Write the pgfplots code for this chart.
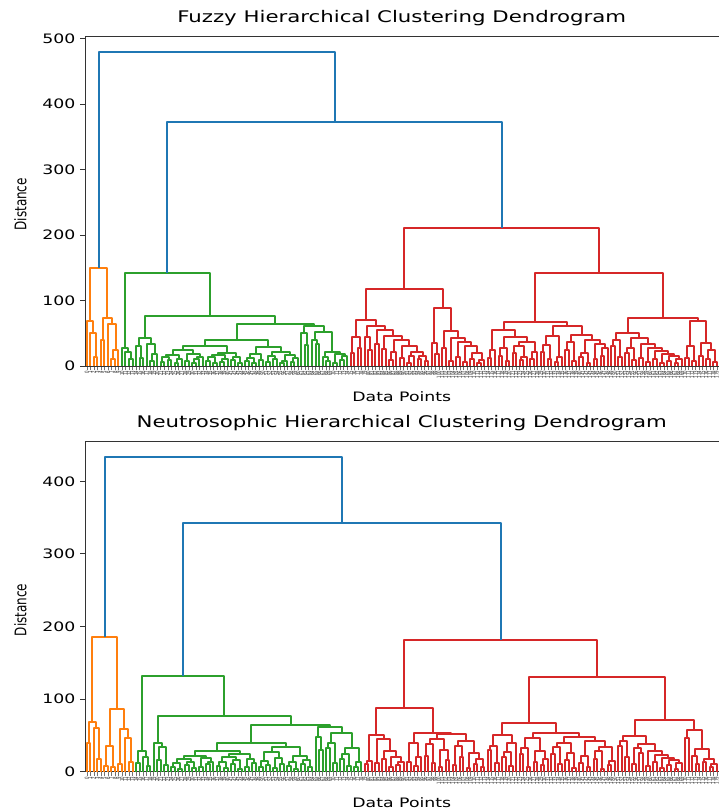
\documentclass[border=0pt]{standalone}
\usepackage{fontspec}
\setmainfont{DejaVu Sans}[FakeStretch=1.33]
\newfontfamily\ylabfont{DejaVu Sans}[FakeStretch=0.75]
\usepackage{pgfplots}
\pgfplotsset{compat=1.18}
\definecolor{mplblue}{HTML}{1F77B4}
\definecolor{mplorange}{HTML}{FF7F0E}
\definecolor{mplgreen}{HTML}{2CA02C}
\definecolor{mplred}{HTML}{D62728}
% dendrogram link: \m{left child}{right child}{merge height}{node name}
% leaves are numbered 0,1,2,... and sit at x = 10*i+5 (scipy layout)
\newcommand\dGet[1]{%
  \ifcsname dx@#1\endcsname
    \edef\dNx{\csname dx@#1\endcsname}\edef\dNy{\csname dy@#1\endcsname}%
  \else
    \pgfmathsetmacro\dNx{10*#1+5}\def\dNy{0}%
  \fi}
\newcommand\m[4]{%
  \dGet{#1}\let\dXa\dNx\let\dYa\dNy
  \dGet{#2}\let\dXb\dNx\let\dYb\dNy
  \pgfmathsetmacro\dXm{(\dXa+\dXb)/2}%
  \expandafter\xdef\csname dx@#4\endcsname{\dXm}%
  \expandafter\xdef\csname dy@#4\endcsname{#3}%
  \edef\dTmp{\noexpand\addplot[dend,color=\cc] coordinates {(\dXa,\dYa) (\dXa,#3) (\dXb,#3) (\dXb,\dYb)};}%
  \dTmp}
\pgfplotsset{
  dend/.style={line width=2pt, line join=round, mark=none},
  dendaxis/.style={
    scale only axis, width=633.5pt, height=330pt,
    xmin=0, xmax=1800, ymin=0,
    axis x line*=box, axis y line*=left,
    axis line style={black!80, line width=0.9pt},
    tick align=outside, major tick length=4.5pt,
    xtick pos=bottom, ytick pos=left,
    xtick={5,15,...,1795},
    x tick style={black!55, line width=0.4pt},
    y tick style={black!80, line width=0.9pt},
    xticklabel={\pgfmathparse{(\tick-5)/10}\pgfmathprintnumber[fixed,precision=0]{\pgfmathresult}},
    x tick label style={font=\ylabfont\fontsize{5.2}{5.5}\selectfont, rotate=90, anchor=east, inner sep=0.3pt, text=black!85},
    y tick label style={font=\fontsize{13}{15}\selectfont, anchor=east, inner sep=0pt, xshift=-5pt},
    /pgf/number format/assume math mode=true,
    title style={font=\fontsize{16}{19}\selectfont, at={(0.5,1)}, anchor=base, yshift=7.7pt},
    xlabel style={font=\fontsize{13}{15}\selectfont, at={(axis description cs:0.5,-0.094)}, anchor=center},
    ylabel style={font=\ylabfont\fontsize{16}{19}\selectfont, at={(axis description cs:-0.102,0.49)}, anchor=center},
    xlabel={Data Points}, ylabel={Distance},
  }
}
\begin{document}
\begin{tikzpicture}[x=1pt,y=1pt]
% ---------------- Fuzzy ----------------
\begin{axis}[dendaxis, at={(85pt,443pt)}, anchor=south west, ymax=504,
  ytick={0,100,...,500}, title={Fuzzy Hierarchical Clustering Dendrogram}]
\def\cc{mplorange}
\m{2}{3}{13}{a1}
\m{1}{a1}{51}{a2}
\m{0}{a2}{69}{a3}
\m{4}{5}{40}{a4}
\m{7}{8}{11}{a5}
\m{a5}{9}{25}{a6}
\m{6}{a6}{64}{a7}
\m{a4}{a7}{74}{a8}
\m{a3}{a8}{150}{OT}
\def\cc{mplgreen}
\m{12}{13}{10}{g1}
\m{11}{g1}{22}{g2}
\m{10}{g2}{28}{g3}
\m{15}{16}{12}{g4}
\m{14}{g4}{30}{g5}
\m{18}{19}{8}{g6}
\m{g6}{20}{18}{g7}
\m{17}{g7}{34}{g8}
\m{g5}{g8}{42}{g9}
\m{21}{22}{6}{g10}
\m{23}{24}{9}{g11}
\m{g10}{g11}{14}{g12}
\m{25}{26}{5}{g13}
\m{g13}{27}{11}{g14}
\m{g12}{g14}{17}{g15}
\m{28}{29}{7}{g16}
\m{30}{31}{4}{g17}
\m{g17}{32}{10}{g18}
\m{g18}{33}{14}{g19}
\m{g16}{g19}{19}{g20}
\m{g15}{g20}{24}{g21}
\m{34}{35}{8}{g22}
\m{36}{37}{5}{g23}
\m{g22}{g23}{13}{g24}
\m{38}{39}{6}{g25}
\m{g25}{40}{11}{g26}
\m{g24}{g26}{17}{g27}
\m{41}{42}{9}{g28}
\m{43}{44}{4}{g29}
\m{g28}{g29}{14}{g30}
\m{g27}{g30}{20}{g31}
\m{g21}{g31}{30}{g32}
\m{45}{46}{7}{g33}
\m{47}{48}{5}{g34}
\m{g33}{g34}{12}{g35}
\m{49}{50}{9}{g36}
\m{g35}{g36}{18}{g37}
\m{51}{52}{6}{g38}
\m{53}{54}{10}{g39}
\m{g38}{g39}{15}{g40}
\m{55}{56}{4}{g41}
\m{g41}{57}{8}{g42}
\m{58}{59}{6}{g43}
\m{g43}{60}{12}{g44}
\m{g42}{g44}{17}{g45}
\m{g40}{g45}{22}{g46}
\m{g37}{g46}{29}{g47}
\m{g32}{g47}{40}{g48}
\m{62}{63}{32}{g49}
\m{61}{g49}{50}{g50}
\m{65}{66}{33}{g51}
\m{64}{g51}{40}{g52}
\m{68}{69}{8}{g53}
\m{67}{g53}{14}{g54}
\m{70}{71}{5}{g55}
\m{72}{73}{9}{g56}
\m{g56}{74}{16}{g57}
\m{g55}{g57}{19}{g58}
\m{g54}{g58}{22}{g59}
\m{g52}{g59}{52}{g60}
\m{g50}{g60}{61}{g61}
\m{g48}{g61}{64}{g62}
\m{g9}{g62}{77}{g63}
\m{g3}{g63}{142}{GT}
\def\cc{mplred}
\m{75}{76}{20}{r1}
\m{77}{78}{28}{r2}
\m{r1}{r2}{44}{r3}
\m{80}{81}{25}{r4}
\m{79}{r4}{45}{r5}
\m{82}{83}{33}{r6}
\m{84}{85}{26}{r7}
\m{86}{87}{9}{r8}
\m{r8}{88}{22}{r9}
\m{89}{90}{12}{r10}
\m{91}{92}{5}{r11}
\m{r11}{93}{16}{r12}
\m{94}{95}{10}{r13}
\m{96}{97}{7}{r14}
\m{r13}{r14}{15}{r15}
\m{r12}{r15}{22}{r16}
\m{r10}{r16}{30}{r17}
\m{r9}{r17}{40}{r18}
\m{r7}{r18}{46}{r19}
\m{r6}{r19}{55}{r20}
\m{r5}{r20}{61}{r21}
\m{r3}{r21}{71}{r22}
\m{99}{100}{18}{r23}
\m{98}{r23}{35}{r24}
\m{101}{102}{28}{r25}
\m{103}{104}{8}{r26}
\m{105}{106}{14}{r27}
\m{107}{108}{6}{r28}
\m{109}{110}{11}{r29}
\m{111}{112}{4}{r30}
\m{r30}{113}{9}{r31}
\m{r29}{r31}{20}{r32}
\m{r28}{r32}{30}{r33}
\m{r27}{r33}{36}{r34}
\m{r26}{r34}{42}{r35}
\m{r25}{r35}{53}{r36}
\m{r24}{r36}{89}{r37}
\m{r22}{r37}{118}{r38}
\m{114}{115}{12}{s1}
\m{s1}{116}{24}{s2}
\m{117}{118}{16}{s3}
\m{119}{120}{7}{s4}
\m{s3}{s4}{27}{s5}
\m{121}{122}{20}{s6}
\m{123}{124}{9}{s7}
\m{s7}{125}{14}{s8}
\m{s6}{s8}{30}{s9}
\m{126}{127}{11}{s10}
\m{s10}{128}{22}{s11}
\m{s9}{s11}{36}{s12}
\m{s5}{s12}{45}{s13}
\m{s2}{s13}{55}{s14}
\m{129}{130}{22}{s15}
\m{131}{132}{10}{s16}
\m{s15}{s16}{32}{s17}
\m{133}{134}{6}{s18}
\m{s18}{135}{14}{s19}
\m{s17}{s19}{46}{s20}
\m{136}{137}{25}{s21}
\m{138}{139}{8}{s22}
\m{s21}{s22}{36}{s23}
\m{140}{141}{13}{s24}
\m{142}{143}{5}{s25}
\m{s24}{s25}{20}{s26}
\m{144}{145}{10}{s27}
\m{146}{147}{16}{s28}
\m{s28}{148}{28}{s29}
\m{s27}{s29}{33}{s30}
\m{s26}{s30}{40}{s31}
\m{s23}{s31}{48}{s32}
\m{s20}{s32}{61}{s33}
\m{s14}{s33}{67}{s34}
\m{149}{150}{30}{t1}
\m{151}{152}{14}{t2}
\m{t1}{t2}{40}{t3}
\m{153}{154}{20}{t4}
\m{155}{156}{9}{t5}
\m{t4}{t5}{28}{t6}
\m{157}{158}{12}{t7}
\m{159}{160}{6}{t8}
\m{161}{162}{10}{t9}
\m{163}{164}{4}{t10}
\m{165}{166}{8}{t11}
\m{167}{168}{5}{t12}
\m{t12}{169}{11}{t13}
\m{t11}{t13}{15}{t14}
\m{t10}{t14}{19}{t15}
\m{t9}{t15}{23}{t16}
\m{t8}{t16}{27}{t17}
\m{t7}{t17}{33}{t18}
\m{t6}{t18}{42}{t19}
\m{t3}{t19}{50}{t20}
\m{170}{171}{12}{t21}
\m{172}{173}{8}{t22}
\m{t21}{t22}{30}{t23}
\m{174}{175}{16}{t24}
\m{176}{177}{10}{t25}
\m{178}{179}{6}{t25b}
\m{t25}{t25b}{24}{t26}
\m{t24}{t26}{35}{t27}
\m{t23}{t27}{68}{t28}
\m{t20}{t28}{73}{t29}
\m{s34}{t29}{142}{t30}
\m{r38}{t30}{210}{RT}
\def\cc{mplblue}
\m{GT}{RT}{372}{U1}
\m{OT}{U1}{480}{U2}
\end{axis}
% ---------------- Neutrosophic ----------------
\begin{axis}[dendaxis, at={(85pt,37.3pt)}, anchor=south west, ymax=454.65,
  ytick={0,100,...,400}, title={Neutrosophic Hierarchical Clustering Dendrogram}]
\def\cc{mplorange}
\m{0}{1}{40}{A1}
\m{3}{4}{17}{A2}
\m{2}{A2}{60}{A3}
\m{A1}{A3}{68}{A4}
\m{5}{6}{8}{A5}
\m{7}{8}{6}{A6}
\m{A5}{A6}{36}{A7}
\m{9}{10}{10}{A8}
\m{12}{13}{14}{A9}
\m{11}{A9}{47}{A10}
\m{A8}{A10}{59}{A11}
\m{A7}{A11}{86}{A12}
\m{A4}{A12}{186}{OB}
\def\cc{mplgreen}
\m{14}{15}{12}{B1}
\m{17}{18}{8}{B1b}
\m{16}{B1b}{20}{B2}
\m{B1}{B2}{29}{B3}
\m{20}{21}{16}{B4}
\m{22}{23}{9}{B5}
\m{B4}{B5}{34}{B6}
\m{19}{B6}{40}{B7}
\m{24}{25}{7}{B21}
\m{26}{27}{4}{B22}
\m{B21}{B22}{12}{B23}
\m{28}{29}{9}{B24}
\m{30}{31}{5}{B25}
\m{B24}{B25}{13}{B26}
\m{B23}{B26}{17}{B27}
\m{32}{33}{6}{B28}
\m{34}{35}{10}{B29}
\m{B29}{36}{14}{B30}
\m{B28}{B30}{19}{B31}
\m{B27}{B31}{22}{B32}
\m{37}{38}{8}{B33}
\m{39}{40}{5}{B34}
\m{B33}{B34}{14}{B35}
\m{41}{42}{11}{B36}
\m{43}{44}{4}{B37}
\m{B36}{B37}{16}{B38}
\m{B35}{B38}{20}{B39}
\m{45}{46}{7}{B40}
\m{47}{48}{12}{B41}
\m{B40}{B41}{18}{B42}
\m{B39}{B42}{25}{B43}
\m{B32}{B43}{29}{B44}
\m{49}{50}{6}{B45}
\m{51}{52}{9}{B46}
\m{B45}{B46}{15}{B47}
\m{53}{54}{5}{B48}
\m{55}{56}{11}{B49}
\m{B48}{B49}{19}{B50}
\m{B47}{B50}{27}{B51}
\m{57}{58}{8}{B52}
\m{59}{60}{4}{B53}
\m{B52}{B53}{13}{B54}
\m{61}{62}{10}{B55}
\m{63}{64}{6}{B56}
\m{B55}{B56}{16}{B57}
\m{B54}{B57}{22}{B58}
\m{B51}{B58}{34}{B59}
\m{B44}{B59}{39}{B60}
\m{66}{67}{30}{B8}
\m{65}{B8}{48}{B9}
\m{68}{69}{32}{B10}
\m{70}{71}{12}{B11}
\m{B10}{B11}{40}{B12}
\m{72}{73}{18}{B13}
\m{74}{75}{8}{B14}
\m{B13}{B14}{25}{B15}
\m{76}{77}{6}{B16}
\m{B16}{78}{14}{B17}
\m{B15}{B17}{33}{B18}
\m{B12}{B18}{53}{B19}
\m{B9}{B19}{61}{B20}
\m{B60}{B20}{64}{B61}
\m{B7}{B61}{77}{B62}
\m{B3}{B62}{132}{GB}
\def\cc{mplred}
\m{79}{80}{10}{C1}
\m{C1}{81}{15}{C2}
\m{82}{83}{12}{C3}
\m{84}{85}{18}{C4}
\m{86}{87}{6}{C5}
\m{88}{89}{9}{C6}
\m{C6}{90}{14}{C7}
\m{C5}{C7}{20}{C8}
\m{C4}{C8}{29}{C9}
\m{C3}{C9}{45}{C10}
\m{C2}{C10}{50}{C11}
\m{91}{92}{14}{C12}
\m{93}{94}{8}{C13}
\m{C13}{95}{20}{C14}
\m{C12}{C14}{40}{C15}
\m{96}{97}{22}{C16}
\m{98}{99}{12}{C17}
\m{C16}{C17}{38}{C18}
\m{100}{101}{6}{C19}
\m{102}{103}{16}{C20}
\m{C19}{C20}{30}{C21}
\m{C18}{C21}{45}{C22}
\m{104}{105}{9}{C23}
\m{106}{107}{20}{C24}
\m{C23}{C24}{35}{C25}
\m{108}{109}{5}{C26}
\m{110}{111}{11}{C27}
\m{112}{113}{7}{C28}
\m{C27}{C28}{17}{C29}
\m{C26}{C29}{26}{C30}
\m{C25}{C30}{42}{C31}
\m{C22}{C31}{52}{C32}
\m{C15}{C32}{54}{C33}
\m{C11}{C33}{88}{C34}
\m{114}{115}{30}{D1}
\m{116}{117}{12}{D2}
\m{D1}{D2}{36}{D3}
\m{118}{119}{20}{D4}
\m{120}{121}{8}{D5}
\m{D4}{D5}{27}{D6}
\m{D6}{122}{40}{D7}
\m{D3}{D7}{50}{D8}
\m{123}{124}{25}{D9}
\m{125}{126}{6}{D10}
\m{D9}{D10}{33}{D11}
\m{127}{128}{14}{D12}
\m{129}{130}{9}{D13}
\m{D13}{131}{18}{D14}
\m{D12}{D14}{28}{D15}
\m{D11}{D15}{46}{D16}
\m{132}{133}{24}{D17}
\m{134}{135}{10}{D18}
\m{D17}{D18}{34}{D19}
\m{136}{137}{16}{D20}
\m{138}{139}{5}{D21}
\m{D20}{D21}{26}{D22}
\m{D19}{D22}{40}{D23}
\m{140}{141}{12}{D24}
\m{142}{143}{7}{D25}
\m{D24}{D25}{22}{D26}
\m{144}{145}{18}{D27}
\m{146}{147}{4}{D28}
\m{D27}{D28}{28}{D29}
\m{148}{149}{9}{D30}
\m{D30}{150}{15}{D31}
\m{D29}{D31}{34}{D32}
\m{D26}{D32}{42}{D33}
\m{D23}{D33}{48}{D34}
\m{D16}{D34}{53}{D35}
\m{D8}{D35}{67}{D36}
\m{151}{152}{36}{E1}
\m{153}{154}{20}{E2}
\m{E1}{E2}{42}{E3}
\m{155}{156}{10}{E4}
\m{157}{158}{26}{E5}
\m{E4}{E5}{33}{E6}
\m{159}{160}{8}{E7}
\m{161}{162}{14}{E8}
\m{163}{164}{5}{E9}
\m{165}{166}{9}{E10}
\m{167}{168}{4}{E11}
\m{E11}{169}{12}{E12}
\m{E10}{E12}{16}{E13}
\m{E9}{E13}{19}{E14}
\m{E8}{E14}{23}{E15}
\m{E7}{E15}{28}{E16}
\m{E6}{E16}{38}{E17}
\m{E3}{E17}{49}{E18}
\m{170}{171}{46}{E19}
\m{173}{174}{10}{E20}
\m{172}{E20}{22}{E21}
\m{175}{176}{14}{E22}
\m{177}{178}{6}{E23}
\m{E23}{179}{10}{E24}
\m{E22}{E24}{18}{E25}
\m{E21}{E25}{31}{E26}
\m{E19}{E26}{58}{E27}
\m{E18}{E27}{71}{E28}
\m{D36}{E28}{131}{E29}
\m{C34}{E29}{181}{RB}
\def\cc{mplblue}
\m{GB}{RB}{343}{F1}
\m{OB}{F1}{434}{F2}
\end{axis}
\pgfresetboundingbox
\path[use as bounding box] (0,0) rectangle (719,809);
\end{tikzpicture}
\end{document}
